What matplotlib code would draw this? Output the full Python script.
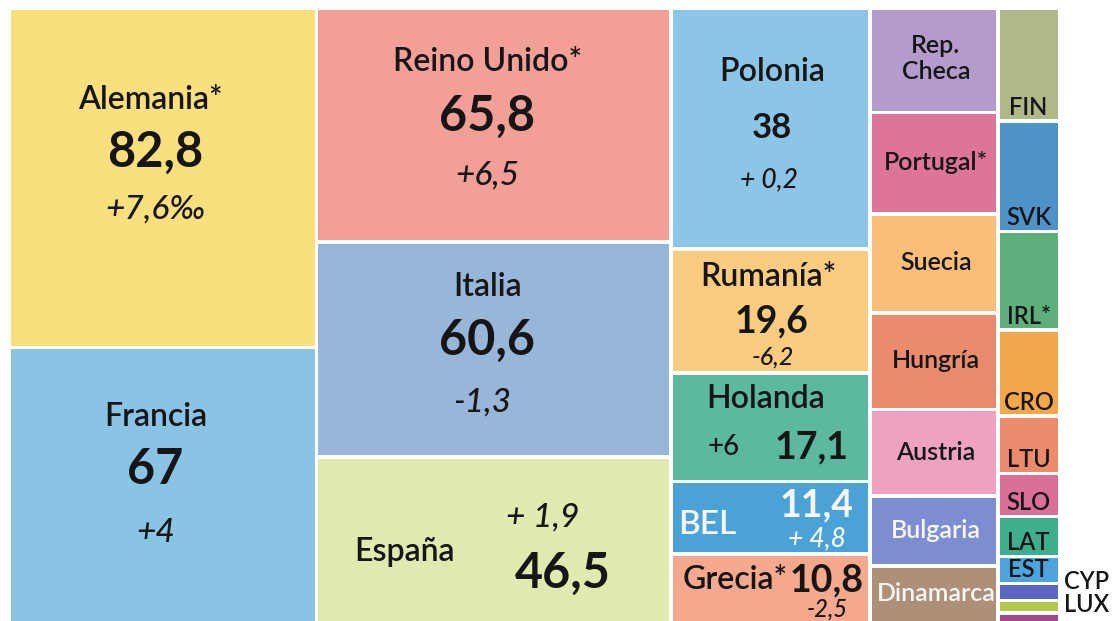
import matplotlib
matplotlib.use("Agg")
import matplotlib.pyplot as plt

# poblacion en millones (2017) y saldo migratorio por mil
countries = ["Alemania*", "Francia",
             "Reino Unido*", "Italia", "España",
             "Polonia", "Rumanía*", "Holanda", "BEL", "Grecia*",
             "Rep.\nCheca", "Portugal*", "Suecia", "Hungría", "Austria", "Bulgaria", "Dinamarca",
             "FIN", "SVK", "IRL*", "CRO", "LTU", "SLO", "LAT", "EST", "CYP", "LUX", "MLT"]
population = [82.8, 67,
              65.8, 60.6, 46.5,
              38, 19.6, 17.1, 11.4, 10.8,
              10.6, 10.3, 10.0, 9.8, 8.8, 7.1, 5.7,
              5.5, 5.4, 4.8, 4.2, 2.8, 2.1, 1.95, 1.3, 0.85, 0.59, 0.46]
column = [0, 0,
          1, 1, 1,
          2, 2, 2, 2, 2,
          3, 3, 3, 3, 3, 3, 3,
          4, 4, 4, 4, 4, 4, 4, 4, 4, 4, 4]
changes = {"Alemania*": "+7,6‰", "Francia": "+4", "Reino Unido*": "+6,5",
           "Italia": "-1,3", "España": "+ 1,9", "Polonia": "+ 0,2",
           "Rumanía*": "-6,2", "Holanda": "+6", "BEL": "+ 4,8", "Grecia*": "-2,5"}

palette = ["#FADF7F", "#8AC4E4",
           "#F2A097", "#97B6D8", "#DFEAB0",
           "#8CC5E6", "#FACC80", "#5CB89E", "#4AA2D6", "#F4A88E",
           "#B39BCC", "#DD7599", "#F9BE7A", "#E98C6D", "#EDA2C2", "#7D8ED0", "#AE8F78",
           "#B0B88A", "#4F91C9", "#5DAF7B", "#F4A64B", "#EA8B6C", "#DA6F98", "#3FAE8E",
           "#4DA4DC", "#5C68C4", "#B5C747", "#A2498D"]
light_text = {"BEL", "Bulgaria", "Dinamarca"}

# label placement inside the big cells: (kind, fx, fy, size)
label_spec = {
    "Alemania*": [("name", .452, .259, 23), ("value", .469, .412, 35), ("change", .469, .580, 24)],
    "Francia": [("name", .472, .239, 23), ("value", .469, .428, 35), ("change", .472, .658, 24)],
    "Reino Unido*": [("name", .476, .214, 23), ("value", .476, .441, 35), ("change", .476, .697, 24)],
    "Italia": [("name", .476, .192, 23), ("value", .476, .438, 35), ("change", .461, .726, 24)],
    "España": [("name", .242, .552, 23), ("change", .633, .340, 24), ("value", .690, .673, 35)],
    "Polonia": [("name", .498, .249, 23), ("value", .498, .482, 25), ("change", .483, .698, 19)],
    "Rumanía*": [("name", .478, .195, 23), ("value", .498, .549, 27), ("change", .503, .847, 18)],
    "Holanda": [("name", .468, .203, 23), ("upright", .257, .646, 20), ("value", .699, .646, 27)],
    "BEL": [("name", .171, .535, 24), ("value", .724, .271, 27), ("change", .724, .742, 19)],
    "Grecia*": [("name", .312, .327, 23), ("value", .775, .327, 27), ("change", .775, .766, 17)],
}

FONT = "Lato"
DARK = "#161616"
DPI = 100
FRAME_X, FRAME_Y, FRAME_W, FRAME_H = 11, 10, 1050, 614
GAP = 3.5

fig = plt.figure(figsize=(11.17, 6.21), dpi=DPI)
ax = fig.add_axes([0, 0, 1, 1])
ax.set_xlim(0, 1117)
ax.set_ylim(621, 0)
ax.axis("off")


def put(x, y, s, size, color, weight="normal", style="normal", ha="center"):
    # y is the centre of the cap height, convert to baseline
    base = y + 0.358 * size * DPI / 72
    ax.text(x, base, s, ha=ha, va="baseline", fontsize=size, color=color,
            fontweight=weight, fontstyle=style, family=FONT)


ncols = max(column) + 1
col_tot = [sum(p for p, c in zip(population, column) if c == k) for k in range(ncols)]
grand = sum(col_tot)

x = FRAME_X
for k in range(ncols):
    w = col_tot[k] / grand * FRAME_W
    y = FRAME_Y
    for i, name in enumerate(countries):
        if column[i] != k:
            continue
        h = population[i] / col_tot[k] * FRAME_H
        ax.bar(x, h - GAP, width=w - GAP, bottom=y, align="edge",
               color=palette[i], linewidth=0)
        col = "#f6f6f6" if name in light_text else DARK
        if name in label_spec:
            for kind, fx, fy, size in label_spec[name]:
                px, py = x + fx * w, y + fy * h
                if kind == "name":
                    put(px, py, name, size, col, weight="semibold")
                elif kind == "value":
                    s = f"{population[i]:g}".replace(".", ",")
                    put(px, py, s, size, col, weight="bold")
                elif kind == "change":
                    put(px, py, changes[name], size, col, weight="medium", style="italic")
                else:
                    put(px, py, changes[name], size, col, weight="medium")
        elif k == 3:
            cx = x + (w - GAP) / 2 + 2
            cy = y + (h - GAP) / 2 - 2
            if "\n" in name:
                ax.text(cx, cy, name, ha="center", va="center", fontsize=18,
                        color=col, fontweight="semibold", family=FONT, linespacing=1.2)
            else:
                put(cx, cy, name, 18, col, weight="semibold")
        elif name in ("CYP", "LUX"):
            dy = -11 if name == "CYP" else -3
            put(FRAME_X + FRAME_W + 26, y + (h - GAP) / 2 + dy, name, 17, DARK, weight="semibold")
        elif name != "MLT":
            put(x + (w - GAP) / 2, y + h - GAP - 13, name, 17, col, weight="semibold")
        y += h
    x += w

fig.savefig("out.png", dpi=DPI, facecolor="white")
